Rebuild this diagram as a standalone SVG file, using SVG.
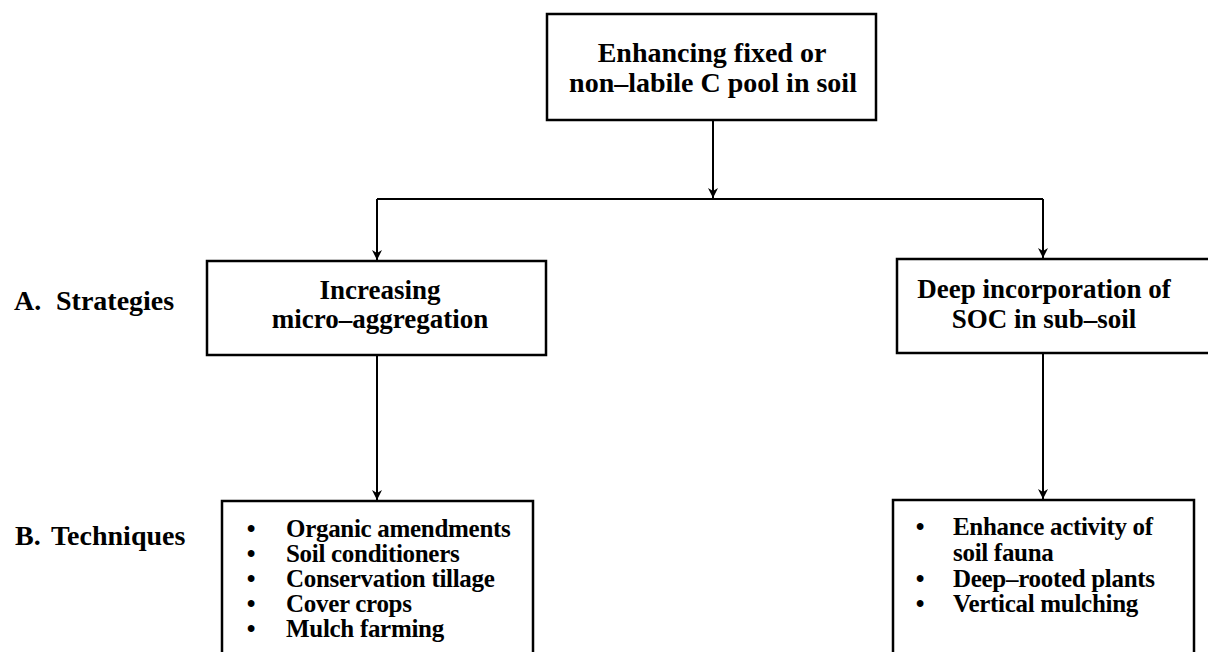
<svg xmlns="http://www.w3.org/2000/svg" width="1208" height="652" viewBox="0 0 1208 652">
  <style>
    .box { fill: #ffffff; stroke: #000000; stroke-width: 2.5; }
    .t { font-family: "Liberation Serif", "Times New Roman", serif; font-weight: bold; fill: #000000; }
    .big { font-size: 28px; }
    .mid { font-size: 27px; }
    .small { font-size: 25px; letter-spacing: -0.3px; }
    .c { text-anchor: middle; }
    .line { stroke: #000000; stroke-width: 2; fill: none; }
  </style>
  <defs>
    <marker id="arrow" viewBox="0 0 10 12" refX="10" refY="6" markerWidth="11" markerHeight="12" markerUnits="userSpaceOnUse" orient="auto">
      <path d="M0,1 L10,6 L0,11 L3,6 Z" fill="#000000"/>
    </marker>
  </defs>
  <rect width="1208" height="652" fill="#ffffff"/>

  <g id="connectors">
    <line class="line" x1="713" y1="120" x2="713" y2="198" marker-end="url(#arrow)"/>
    <polyline class="line" points="377,199 1043,199"/>
    <line class="line" x1="377" y1="199" x2="377" y2="260" marker-end="url(#arrow)"/>
    <line class="line" x1="1043" y1="199" x2="1043" y2="258" marker-end="url(#arrow)"/>
    <line class="line" x1="377" y1="355" x2="377" y2="500" marker-end="url(#arrow)"/>
    <line class="line" x1="1043" y1="353" x2="1043" y2="499" marker-end="url(#arrow)"/>
  </g>

  <g id="root">
    <rect class="box" x="547" y="14" width="329" height="106"/>
    <text class="t big c" x="712" y="62">Enhancing fixed or</text>
    <text class="t big c" x="713" y="92">non–labile C pool in soil</text>
  </g>

  <g id="label-a">
    <text class="t big" x="14" y="310">A.</text>
    <text class="t big" x="56" y="310">Strategies</text>
  </g>
  <g id="label-b">
    <text class="t big" x="15" y="545">B.</text>
    <text class="t big" x="51" y="545">Techniques</text>
  </g>

  <g id="strategy-left">
    <rect class="box" x="207" y="261" width="339" height="94"/>
    <text class="t mid c" x="380" y="299">Increasing</text>
    <text class="t mid c" x="380" y="328">micro–aggregation</text>
  </g>

  <g id="strategy-right">
    <rect class="box" x="897" y="259" width="330" height="94"/>
    <text class="t mid c" x="1044" y="298">Deep incorporation of</text>
    <text class="t mid c" x="1044" y="328">SOC in sub–soil</text>
  </g>

  <g id="techniques-left">
    <rect class="box" x="222" y="501" width="311" height="200"/>
    <text class="t small c" x="251" y="537">•</text>
    <text class="t small" x="286" y="537">Organic amendments</text>
    <text class="t small c" x="251" y="562">•</text>
    <text class="t small" x="286" y="562">Soil conditioners</text>
    <text class="t small c" x="251" y="587">•</text>
    <text class="t small" x="286" y="587">Conservation tillage</text>
    <text class="t small c" x="251" y="612">•</text>
    <text class="t small" x="286" y="612">Cover crops</text>
    <text class="t small c" x="251" y="637">•</text>
    <text class="t small" x="286" y="637">Mulch farming</text>
  </g>

  <g id="techniques-right">
    <rect class="box" x="893" y="500" width="301" height="200"/>
    <text class="t small c" x="920" y="535">•</text>
    <text class="t small" x="953" y="535">Enhance activity of</text>
    <text class="t small" x="953" y="561">soil fauna</text>
    <text class="t small c" x="920" y="587">•</text>
    <text class="t small" x="953" y="587">Deep–rooted plants</text>
    <text class="t small c" x="920" y="612">•</text>
    <text class="t small" x="953" y="612">Vertical mulching</text>
  </g>
</svg>
